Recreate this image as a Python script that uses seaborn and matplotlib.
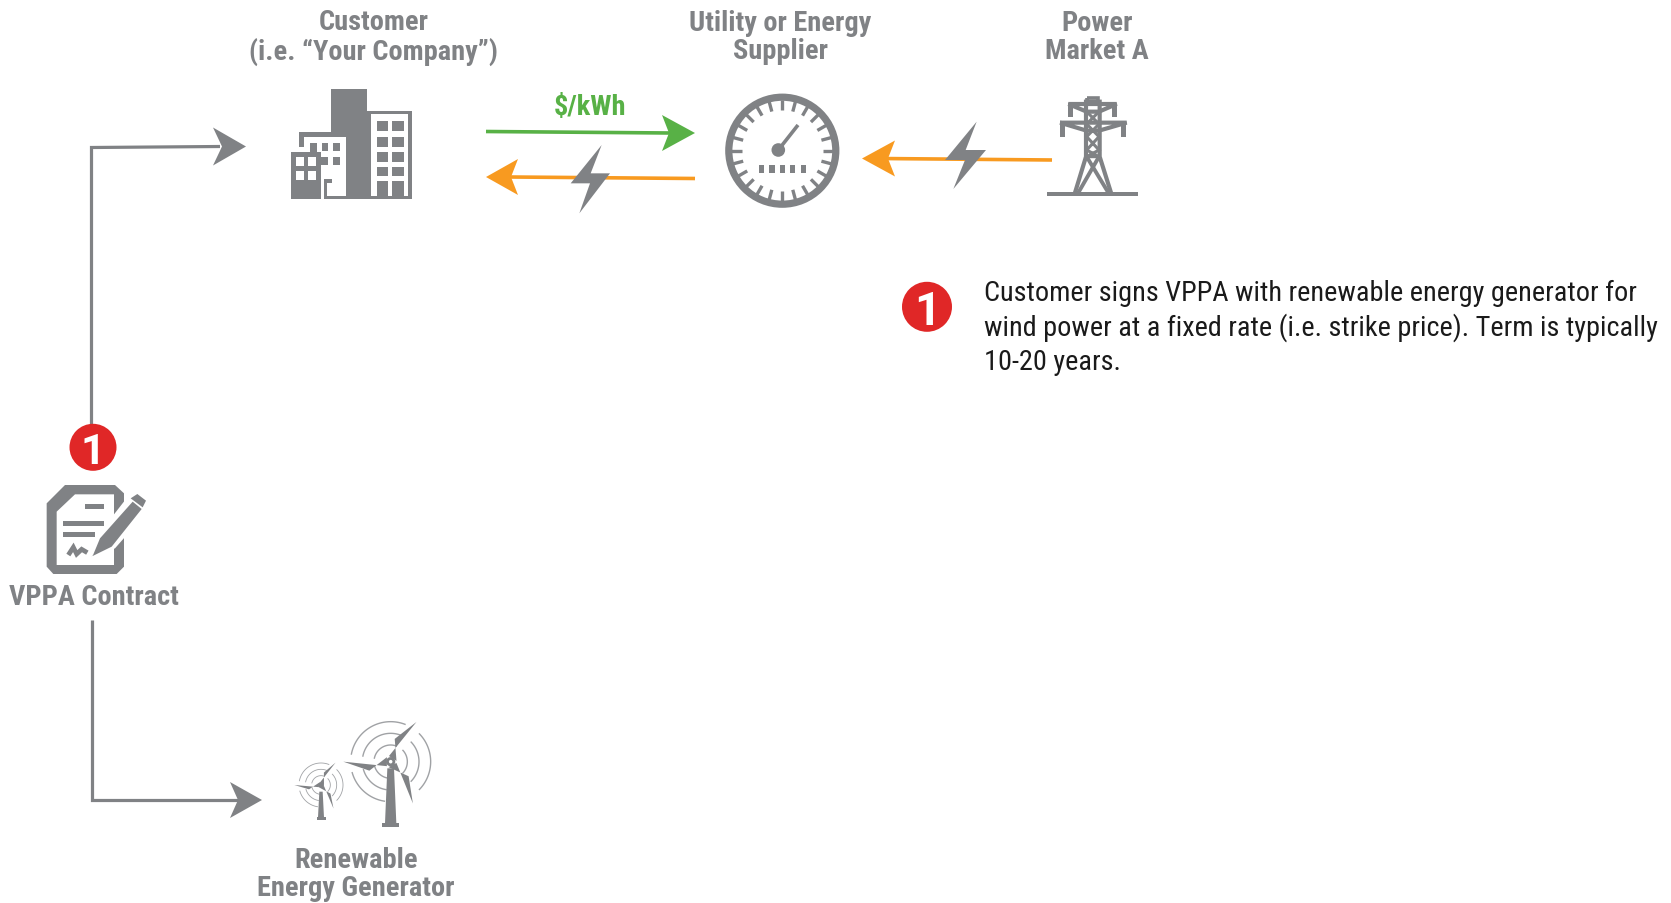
import numpy as np
import pandas as pd
import matplotlib
matplotlib.use("Agg")
import matplotlib.pyplot as plt
from matplotlib.patches import Polygon, Circle
import seaborn as sns

# --- content ---
node_labels = ["Customer\n(i.e. \u201cYour Company\u201d)", "Utility or Energy\nSupplier", "Power\nMarket A",
               "VPPA Contract", "Renewable\nEnergy Generator"]
price_label = "$/kWh"
step_number = "1"
step_text = ["Customer signs VPPA with renewable energy generator for",
             "wind power at a fixed rate (i.e. strike price). Term is typically",
             "10-20 years."]

GRAY = "#808285"
GREEN = "#58b146"
ORANGE = "#f89a20"
RED = "#e02727"
NARROW = ["Roboto Condensed", "Roboto", "DejaVu Sans"]

sns.set_theme(style="white")
plt.rcParams["font.family"] = NARROW
fig = plt.figure(figsize=(16.71, 9.04), dpi=100, facecolor="white")
ax = fig.add_axes([0, 0, 1, 1])
ax.set_facecolor("white")


def poly(pts, color=GRAY, z=3, **kw):
    ax.add_patch(Polygon(pts, closed=True, facecolor=color, edgecolor="none", zorder=z, **kw))


def zoom(x0, y0, k=3.0):
    return lambda pts: [(x0 + x / k, y0 + y / k) for x, y in pts]


def rect(f, a, b, c, d, color=GRAY, z=3):
    poly(f([(a, b), (c, b), (c, d), (a, d)]), color, z)


def connector(xs, ys, color, lw):
    df = pd.DataFrame({"x": xs, "y": ys})
    sns.lineplot(data=df, x="x", y="y", sort=False, estimator=None, color=color, linewidth=lw, ax=ax,
                 solid_capstyle="butt", solid_joinstyle="miter", zorder=2)


def head(tip, back, half, notch, color):
    tx, ty = tip
    poly([(back, ty - half), (tx, ty), (back, ty + half), (notch, ty)], color, 3)


def bolt(f, pts):
    poly(f(pts), GRAY, 4)


# --- connectors ---
connector([91.5, 91.5, 220], [425, 147.5, 146.5], GRAY, 2.3)
head((246, 146.5), 213, 19, 222, GRAY)
connector([91.5, 91.5, 240], [620, 799.5, 799.5], GRAY, 2.3)
head((262, 800), 230, 18, 238, GRAY)

connector([486, 670], [131.5, 133], GREEN, 2.6)
head((695, 133), 662, 18, 669, GREEN)
connector([510, 695], [177, 178.5], ORANGE, 2.6)
head((486, 177), 518, 18, 511, ORANGE)
connector([880, 1052], [158.5, 160], ORANGE, 2.6)
head((862, 158.5), 895, 18, 888, ORANGE)

z1 = zoom(250, 0)
z2 = zoom(700, 0)
bolt(z1, [(1055, 435), (962, 550), (1020, 550), (988, 640), (1080, 520), (1022, 520)])
bolt(z2, [(830, 365), (735, 480), (795, 480), (760, 567), (858, 450), (797, 450)])

# --- building ---
rect(z1, 243, 268, 352, 597)
rect(z1, 352, 332, 487, 597)
rect(z1, 363, 343, 475, 587, "white", 4)
for a, c in [(380, 413), (427, 461)]:
    for b, d in [(363, 393), (410, 440), (455, 485), (500, 527), (543, 587)]:
        rect(z1, a, b, c, d, GRAY, 5)
rect(z1, 147, 395, 243, 440)
rect(z1, 163, 410, 287, 587, "white", 4)
rect(z1, 222, 587, 243, 597)
rect(z1, 123, 455, 213, 597, GRAY, 5)
for a, b, c, d in [(180, 428, 200, 455), (215, 428, 235, 452), (250, 428, 270, 452),
                   (250, 472, 270, 496), (213, 472, 235, 496), (222, 540, 230, 590), (222, 538, 245, 550)]:
    rect(z1, a, b, c, d, GRAY, 5)
for a, c in [(137, 163), (173, 197)]:
    for b, d in [(470, 497), (513, 540)]:
        rect(z1, a, b, c, d, "white", 6)

# --- meter ---
cx, cy = 782.3, 150.7
ax.add_patch(Circle((cx, cy), 53.5, facecolor="white", edgecolor=GRAY, linewidth=5.2, zorder=3))
for ang in np.arange(0, 360, 15):
    a = np.deg2rad(ang)
    ax.plot([cx + 51 * np.cos(a), cx + 40.5 * np.cos(a)], [cy + 51 * np.sin(a), cy + 40.5 * np.sin(a)],
            color=GRAY, lw=2.4, solid_capstyle="butt", zorder=4)
ax.add_patch(Circle((778.3, 150), 6.8, facecolor=GRAY, edgecolor="none", zorder=5))
ax.plot([778.3, 798], [150, 125], color=GRAY, lw=2.6, solid_capstyle="butt", zorder=5)
for a, c in [(177, 193), (208, 224), (240, 255), (270, 286), (302, 318)]:
    rect(z2, a, 495, c, 520, GRAY, 5)


# --- tower ---
def seg(f, pts, lw=2.0):
    p = np.array(f(pts))
    ax.plot(p[:, 0], p[:, 1], color=GRAY, lw=lw, solid_capstyle="butt", solid_joinstyle="miter", zorder=4)


rect(z2, 1042, 575, 1313, 589)
seg(z2, [(1125, 578), (1158, 470), (1158, 305), (1199, 305), (1199, 470), (1233, 578)], 3.0)
seg(z2, [(1162, 293), (1195, 293), (1195, 305), (1162, 305), (1162, 293)], 2.6)
seg(z2, [(1105, 312), (1250, 312), (1197, 335), (1160, 335), (1105, 312)], 3.0)
seg(z2, [(1080, 368), (1280, 368), (1197, 392), (1160, 392), (1080, 368)], 3.0)
seg(z2, [(1160, 335), (1197, 372), (1160, 410), (1197, 450), (1160, 470), (1197, 470), (1160, 450), (1197, 410),
         (1160, 372), (1197, 335)], 2.2)
seg(z2, [(1160, 470), (1225, 578)], 2.8)
seg(z2, [(1197, 470), (1135, 578)], 2.8)
for x, y0, y1 in [(1112, 318, 350), (1243, 318, 350), (1087, 375, 410), (1270, 375, 410)]:
    rect(z2, x - 7, y0, x + 7, y1, GRAY, 4)

# --- contract icon ---
z3 = zoom(0, 410)
poly(z3([(195, 225), (345, 225), (372, 250), (372, 470), (350, 492), (160, 492), (140, 470), (140, 280)]))
poly(z3([(225, 253), (342, 253), (342, 335), (275, 440), (342, 395), (342, 465), (170, 465), (170, 305)]),
     "white", 4)
rect(z3, 255, 283, 312, 298, GRAY, 5)
rect(z3, 188, 333, 312, 348, GRAY, 5)
rect(z3, 188, 367, 285, 382, GRAY, 5)
seg(z3, [(205, 435), (220, 412), (230, 432), (245, 418), (262, 428)], 3.4)
poly(z3([(395, 245), (455, 290), (345, 415), (275, 445), (290, 380)]), "white", 5)
poly(z3([(398, 275), (425, 297), (335, 410), (278, 438), (300, 385)]), GRAY, 6)
poly(z3([(392, 265), (412, 252), (438, 272), (428, 292)]), GRAY, 6)

# --- wind turbines ---
z4 = zoom(240, 700)


def turbine(hx, hy, blade, base_y, base_h, radii, top_half, bot_half, arc_lw, hub_r, width):
    f = z4
    for r in radii:
        for a0, a1 in [(68, 170), (-45, 45), (195, 262)]:
            t = np.deg2rad(np.linspace(a0, a1, 60))
            p = np.array(f(np.c_[hx + r * np.cos(t), hy - r * np.sin(t)].tolist()))
            ax.plot(p[:, 0], p[:, 1], color="#a0a2a5", lw=arc_lw, zorder=3, solid_capstyle="butt")
    poly(f([(hx - top_half, hy + 20), (hx + top_half, hy + 20), (hx + bot_half, base_y), (hx - bot_half, base_y)]),
         GRAY, 4)
    rect(f, hx - bot_half * 1.5, base_y, hx + bot_half * 1.5, base_y + base_h, GRAY, 4)
    for ang in (57, 180, -62):
        a = np.deg2rad(ang)
        u = np.array([np.cos(a), -np.sin(a)])
        n = np.array([u[1], -u[0]])
        h = np.array([hx, hy])
        poly(f([tuple(h + u * blade * 0.08 - n * width * 0.5), tuple(h + u * blade * 0.45 + n * width),
                tuple(h + u * blade), tuple(h + u * blade * 0.08 + n * width * 0.5)]), GRAY, 5)
    ax.add_patch(Circle(f([(hx, hy)])[0], hub_r, facecolor="white", edgecolor=GRAY, linewidth=2.0, zorder=6))


turbine(452, 185, 142, 370, 12, [120, 85, 50], 10, 17, 1.0, 3.2, 27)
turbine(243, 255, 80, 352, 8, [66, 47, 28], 5, 9, 0.6, 1.6, 13)

# --- red step markers ---
for (x, y, r, fs) in [(93, 447.3, 23.5, 31), (927, 306.8, 25, 33)]:
    ax.add_patch(Circle((x, y), r, facecolor=RED, edgecolor="none", zorder=5))
    ax.text(x, y, step_number, color="white", fontsize=fs, fontweight="bold", ha="center", va="center_baseline",
            family=["Roboto", "DejaVu Sans"], zorder=6)

# --- text ---
label_xy = [(373.5, 36.5), (780, 36.5), (1097, 36.5), (94, 596.5), (356, 873.5)]
for lab, (x, y) in zip(node_labels, label_xy):
    ax.text(x, y, lab, color=GRAY, fontsize=20.4, fontweight="bold", ha="center", va="center",
            linespacing=1.08, zorder=7)
ax.text(590, 106.5, price_label, color=GREEN, fontsize=20.4, fontweight="bold", ha="center", va="center", zorder=7)
for line, y in zip(step_text, [292, 327, 361.5]):
    ax.text(984, y, line, color="#1a1a1a", fontsize=20.35, ha="left", va="center", zorder=7)

ax.set_xlim(0, 1671)
ax.set_ylim(903, -1)
ax.axis("off")
fig.savefig("out.png", dpi=100, facecolor="white")
